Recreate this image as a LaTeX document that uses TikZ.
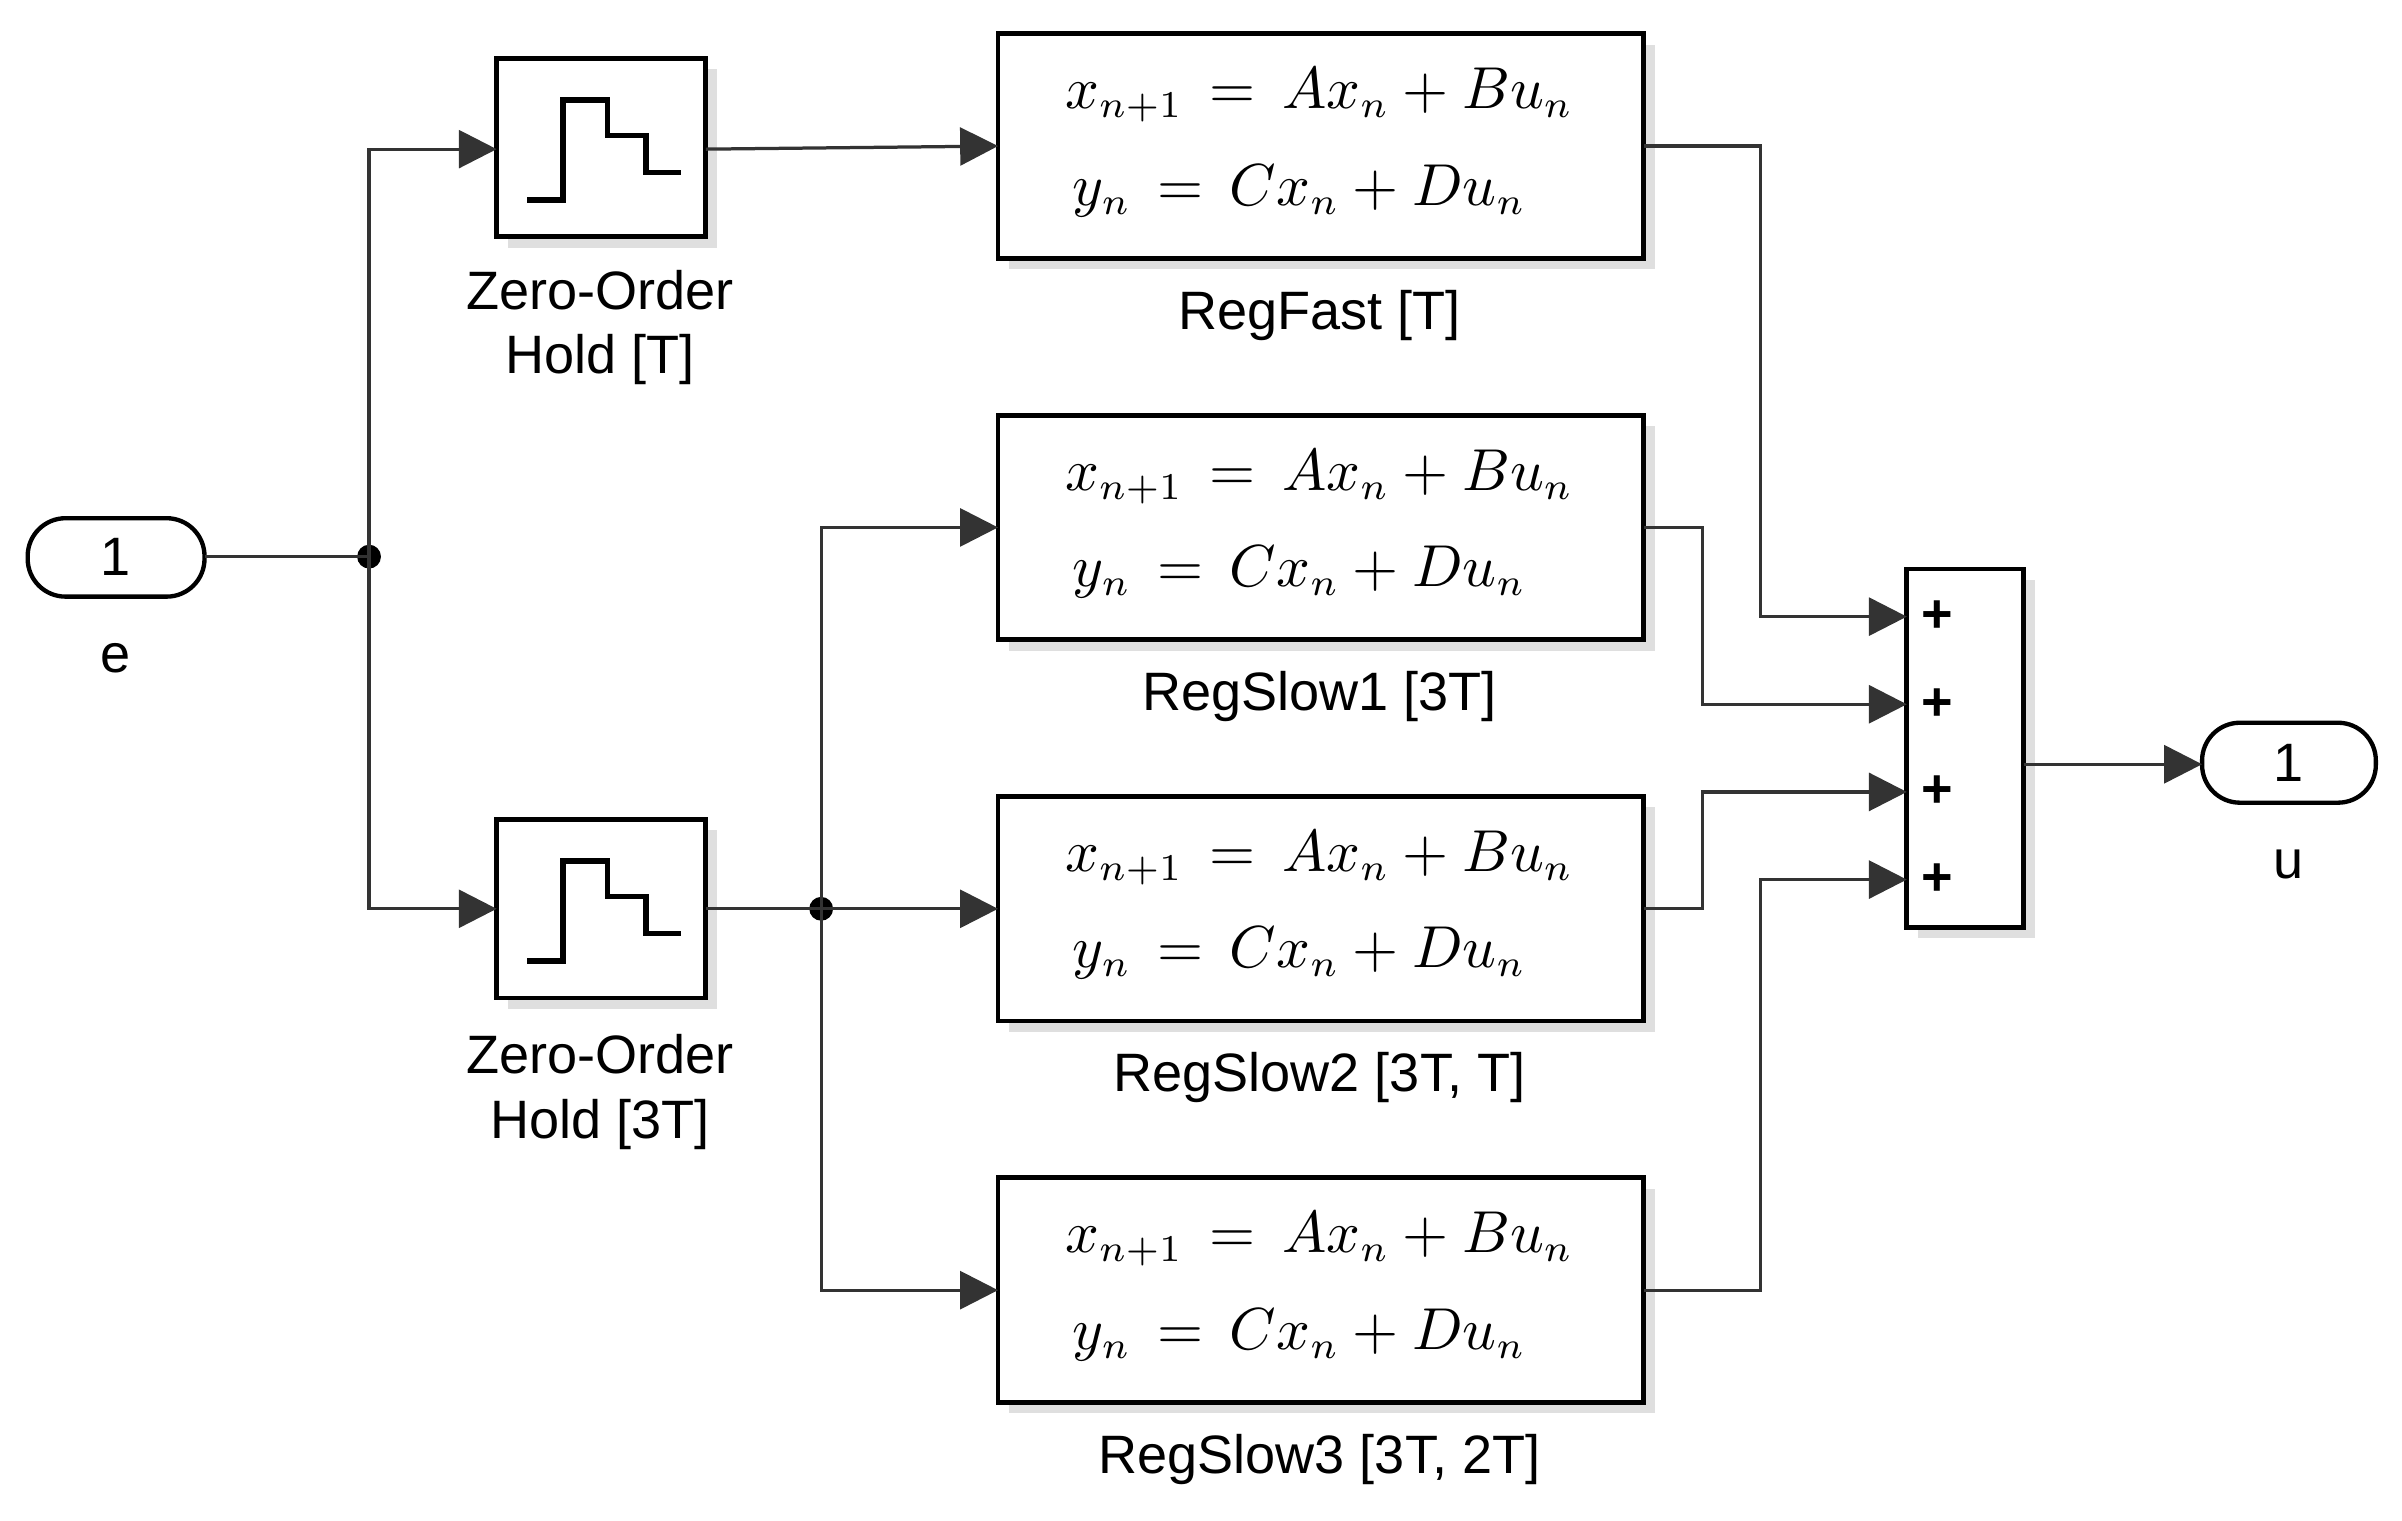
\documentclass[tikz,border=0pt]{standalone}
\usepackage{fontspec}
\setmainfont{Liberation Sans}
\usetikzlibrary{arrows.meta,shadows}
\begin{document}
\begin{tikzpicture}[x=0.01cm,y=-0.01cm,
  blk/.style={draw,line width=0.9pt,fill=white,drop shadow={shadow xshift=2pt,shadow yshift=-2pt,opacity=0.25}},
  lbl/.style={font=\fontsize{10}{12}\selectfont,align=center},
  ln/.style={line width=0.6pt,draw=black!80},
  arr/.style={ln,-{Triangle[length=7pt,width=7pt]}}]
\useasboundingbox (0,0) rectangle (1562,989);
% inport / outport
\draw[line width=0.8pt,rounded corners=7pt] (18,337) rectangle (133,388);
\node (in) at (75,362) {\fontsize{10}{12}\selectfont 1};
\coordinate (inR) at (133,362);
\node[lbl] at (75,428) {e};
\draw[line width=0.8pt,rounded corners=7pt] (1432,470) rectangle (1545,522);
\node (out) at (1488,496) {\fontsize{10}{12}\selectfont 1};
\coordinate (outL) at (1432,497);
\node[lbl] at (1488,562) {u};
% ZOH blocks
\foreach \y in {38,533}{
  \draw[blk] (323,\y) rectangle (459,\y+116);
  \draw[line width=1pt] (343,\y+92)--(366,\y+92)--(366,\y+27)--(395,\y+27)--(395,\y+50)--(420,\y+50)--(420,\y+74)--(443,\y+74);
}
\coordinate (z1L) at (323,97); \coordinate (z1R) at (459,97);
\coordinate (z2L) at (323,591); \coordinate (z2R) at (459,591);
\node[lbl] at (390,213) {Zero-Order\\Hold [T]};
\node[lbl] at (390,710) {Zero-Order\\Hold [3T]};
% regulators
\foreach \n/\y/\t in {f/22/{RegFast [T]},s1/270/{RegSlow1 [3T]},s2/518/{RegSlow2 [3T, T]},s3/766/{RegSlow3 [3T, 2T]}}{
  \draw[blk] (649,\y) rectangle (1069,\y+146);
  \node at (858,\y+40) {\fontsize{10.5}{12}\selectfont$x_{n+1}\,=\,Ax_n+Bu_n$};
  \node at (845,\y+102) {\fontsize{10.5}{12}\selectfont$y_n\,=\,Cx_n+Du_n$};
  \node[lbl] at (858,\y+183) {\t};
  \coordinate (\n L) at (649,\y+73);
  \coordinate (\n R) at (1069,\y+73);
}
% sum
\draw[blk] (1240,370) rectangle (1316,603);
\foreach \i/\y in {1/401,2/458,3/515,4/572}{
  \coordinate (sum\i) at (1240,\y);
  \node[font=\fontsize{10}{12}\selectfont\bfseries] at (1260,\y) {+};
}
\coordinate (sumR) at (1316,497);
% branch points
\coordinate (b1) at (240,362);
\coordinate (b2) at (534,591);
\fill (b1) circle (2.2pt);
\fill (b2) circle (2.2pt);
% connectors
\draw[ln] (inR) -- (b1);
\draw[arr] (b1) |- (z1L);
\draw[arr] (b1) |- (z2L);
\draw[arr] (z1R) -- (fL);
\draw[ln] (z2R) -- (b2);
\draw[arr] (b2) |- (s1L);
\draw[arr] (b2) -- (s2L);
\draw[arr] (b2) |- (s3L);
\draw[arr] (fR) -- ++(76,0) |- (sum1);
\draw[arr] (s1R) -- ++(38,0) |- (sum2);
\draw[arr] (s2R) -- ++(38,0) |- (sum3);
\draw[arr] (s3R) -- ++(76,0) |- (sum4);
\draw[arr] (sumR) -- (outL);
\end{tikzpicture}
\end{document}
